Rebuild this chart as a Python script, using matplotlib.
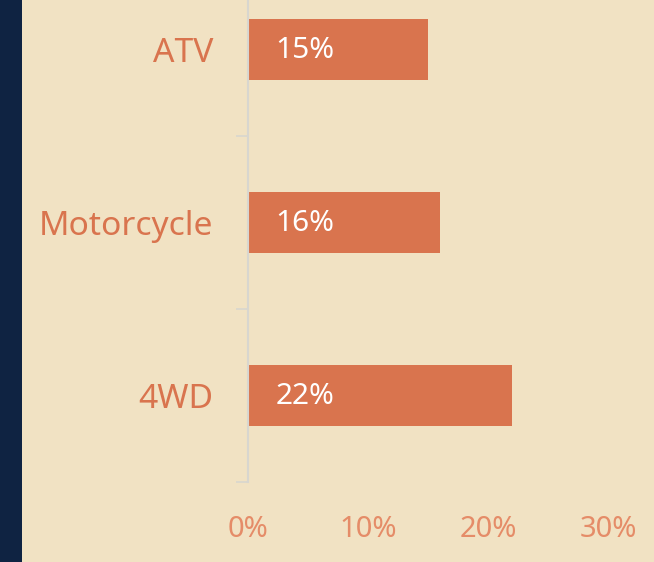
import matplotlib.pyplot as plt
from matplotlib.patches import Rectangle

categories = ["ATV", "Motorcycle", "4WD"]
values = [15, 16, 22]
xticks = [0, 10, 20, 30]
xtick_labels = ["0%", "10%", "20%", "30%"]

W, H = 654, 562
bg = "#F1E2C3"
bar_col = "#D9744E"
navy = "#0F2342"

plt.rcParams['font.family'] = ['Noto Sans', 'DejaVu Sans']

fig = plt.figure(figsize=(W / 100, H / 100), dpi=100)
fig.patch.set_facecolor(bg)
fig.patches.append(Rectangle((0, 0), 22 / W, 1, transform=fig.transFigure,
                             facecolor=navy, edgecolor="none"))

# axes: left at x=248 px, bottom band edge at y=482 px, top band edge off-canvas at y=-37
ax = fig.add_axes([248 / W, (H - 482) / H, (W - 248) / W, (482 + 37) / H])
ax.set_facecolor("none")

ypos = list(range(len(categories)))
ax.barh(ypos, values, height=0.35, color=bar_col)
ax.set_ylim(2.5, -0.5)
ax.set_xlim(0, (W - 248) / 12)

ax.set_yticks(ypos)
ax.set_yticklabels(categories, fontsize=24.2, color="#D9744E")
ax.tick_params(axis="y", which="major", length=0, pad=25)
ax.set_yticks([0.5, 1.5, 2.5], minor=True)
ax.tick_params(axis="y", which="minor", length=8.6, width=1.2, color="#D8D6CF")

ax.set_xticks(xticks)
ax.set_xticklabels(xtick_labels, fontsize=21, color="#E58C68")
ax.tick_params(axis="x", length=0, pad=24)

for s in ["top", "right", "bottom"]:
    ax.spines[s].set_visible(False)
ax.spines["left"].set_color("#D8D6CF")
ax.spines["left"].set_linewidth(1.5)

for y, v in zip(ypos, values):
    ax.annotate(f"{v}%", xy=(0, y), xytext=(20, -1), textcoords="offset points",
                ha="left", va="center", fontsize=21.5, color="white")

fig.savefig("out.png", dpi=100, facecolor=bg)
